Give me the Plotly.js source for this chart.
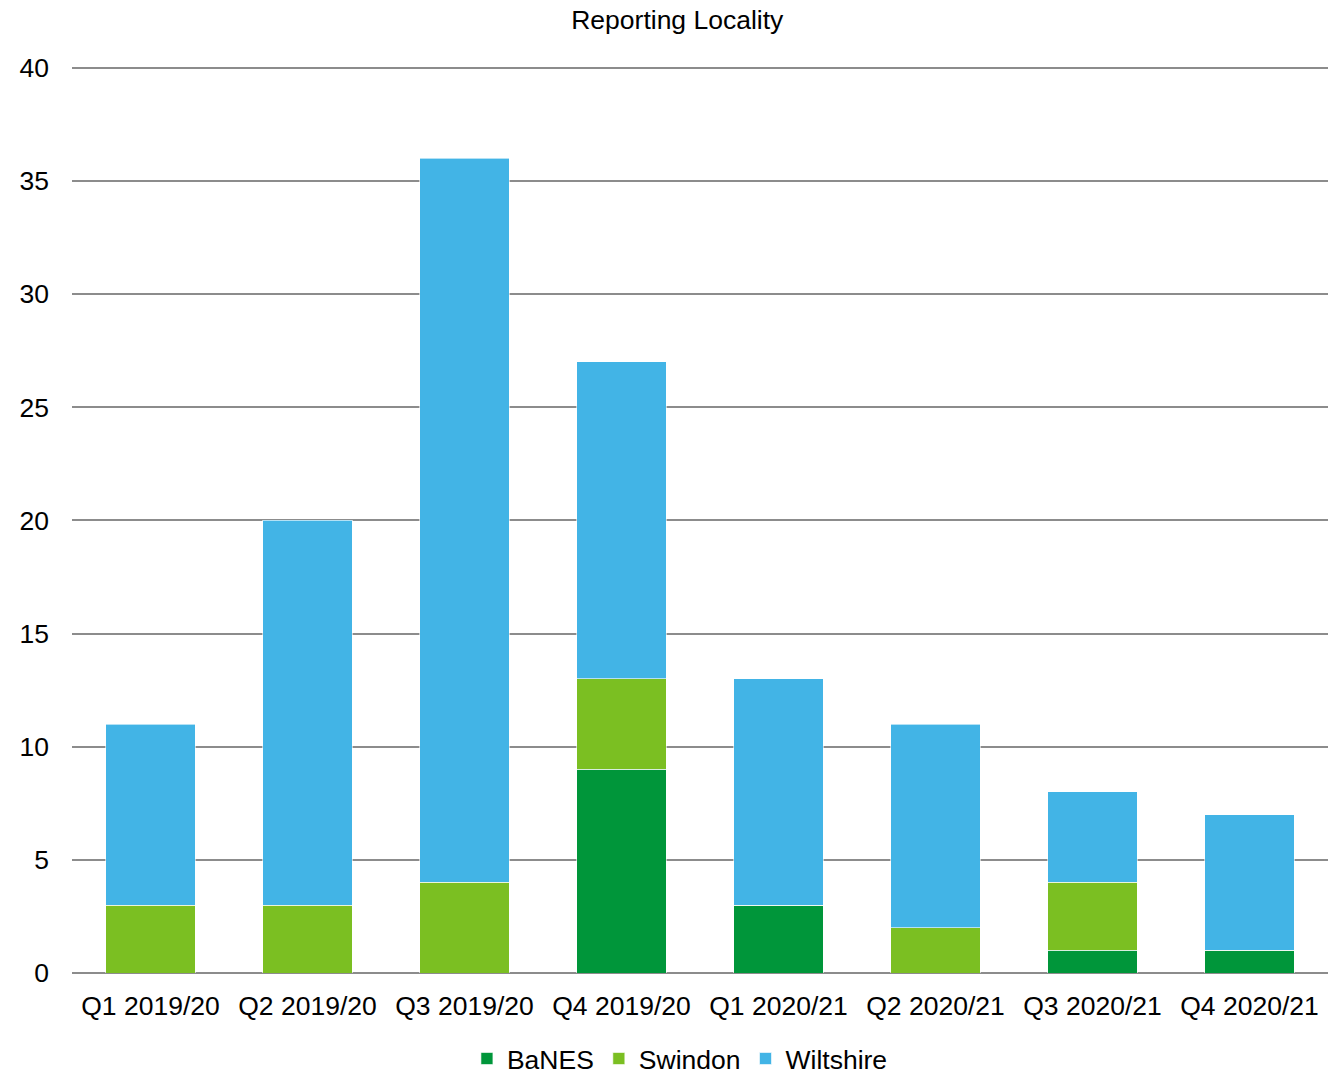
<!DOCTYPE html>
<html>
<head>
<meta charset="utf-8">
<script src="https://cdn.plot.ly/plotly-3.0.1.min.js"></script>
<style>
  html, body { margin: 0; padding: 0; background: #fff; }
  #chart { width: 1328px; height: 1074px; }
</style>
</head>
<body>
<div id="chart"></div>
<script>
// Quarterly counts by reporting locality
const quarters = ['Q1 2019/20', 'Q2 2019/20', 'Q3 2019/20', 'Q4 2019/20',
                  'Q1 2020/21', 'Q2 2020/21', 'Q3 2020/21', 'Q4 2020/21'];
const banes     = [0, 0, 0, 9, 3, 0, 1, 1];
const swindon   = [3, 3, 4, 4, 0, 2, 3, 0];
const wiltshire = [8, 17, 32, 14, 10, 9, 4, 6];
const yTicks    = [0, 5, 10, 15, 20, 25, 30, 35, 40];

const font = 'Liberation Sans, Arial, sans-serif';
const fs = 26.5;

function series(name, values, color) {
  return {
    type: 'bar',
    name: name,
    x: quarters,
    y: values,
    marker: { color: color, line: { color: 'rgba(255,255,255,0.6)', width: 1 } },
    hoverinfo: 'x+y+name'
  };
}

const data = [
  series('BaNES', banes, '#00963a'),
  series('Swindon', swindon, '#7bbf22'),
  series('Wiltshire', wiltshire, '#42b4e6')
];

const layout = {
  width: 1328,
  height: 1074,
  barmode: 'stack',
  bargap: 0.43,
  paper_bgcolor: '#ffffff',
  plot_bgcolor: '#ffffff',
  font: { family: font, size: fs, color: '#000000' },
  title: {
    text: 'Reporting Locality',
    font: { family: font, size: fs, color: '#000000' },
    x: 0.51, xanchor: 'center',
    y: 0.982, yanchor: 'middle'
  },
  // a little headroom above 40 so the top gridline is drawn
  margin: { l: 72, r: 0, t: 61, b: 101, pad: 0, autoexpand: false },
  xaxis: {
    type: 'category',
    showgrid: false,
    showline: false,
    zeroline: false,
    ticks: '',
    ticklabelstandoff: 14,
    tickfont: { family: font, size: fs, color: '#000000' }
  },
  yaxis: {
    range: [0, 40.3],
    tickvals: yTicks,
    ticktext: yTicks.map(String),
    showgrid: true,
    gridcolor: '#8c8c8c',
    gridwidth: 2,
    zeroline: true,
    zerolinecolor: '#8c8c8c',
    zerolinewidth: 2,
    showline: false,
    ticks: '',
    ticklabelstandoff: 22,
    tickfont: { family: font, size: fs, color: '#000000' }
  },
  showlegend: true,
  legend: {
    orientation: 'h',
    traceorder: 'normal',
    xref: 'container',
    yref: 'container',
    x: 0.512, xanchor: 'center',
    y: 0.0365, yanchor: 'top',
    font: { family: font, size: fs, color: '#000000' },
    itemwidth: 30,
    tracegroupgap: 0,
    bgcolor: 'rgba(0,0,0,0)'
  }
};

Plotly.newPlot('chart', data, layout, { displayModeBar: false, staticPlot: true });
</script>
</body>
</html>
